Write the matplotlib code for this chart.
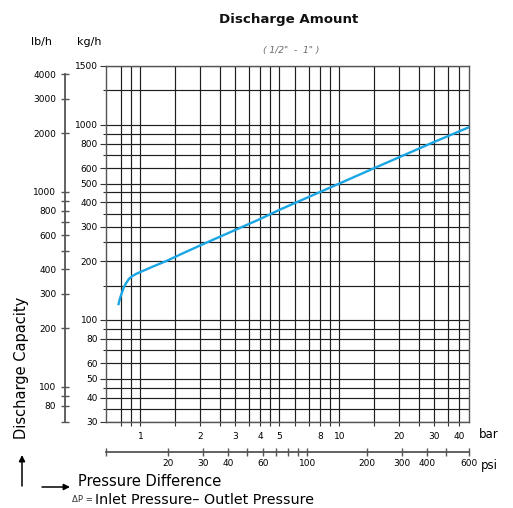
import matplotlib
matplotlib.use("Agg")
import matplotlib.pyplot as plt
from matplotlib.ticker import NullFormatter

# curva: diferenca de pressao [bar] x capacidade [kg/h]
dp_bar = [0.775, 0.79, 0.806, 0.826, 0.847, 0.875, 0.905, 0.95, 1.0, 1.16, 1.36, 1.58, 2.0,
          4.0, 5.04, 10.0, 15.1, 30.0, 45.4]
cap_kgh = [119, 129, 137, 147, 154, 162, 167, 172, 176, 188, 201, 216, 241,
           329, 368, 500, 602, 817, 977]

# eixos
kg_major = [30, 40, 50, 60, 80, 100, 200, 300, 400, 500, 600, 800, 1000]
kg_minor = [35, 45, 70, 90, 150, 250, 350, 450, 700, 900, 1500]
lb_major = [80, 100, 200, 300, 400, 600, 800, 1000, 2000, 3000, 4000]
lb_minor = [90, 500, 700, 900]
bar_major = [1, 2, 3, 4, 5, 8, 10, 20, 30, 40]
bar_minor = [0.8, 0.9, 1.5, 2.5, 3.5, 4.5, 6, 7, 9, 15, 25, 35]
psi_major = [20, 30, 40, 60, 100, 200, 300, 400]
psi_minor = [50, 70, 80, 90, 500]

KG2LB = 2.20462
BAR2PSI = 14.5038
W, H = 513, 508

def fx(px):
    return px / W

def fy(py):
    return 1 - py / H

fig = plt.figure(figsize=(W / 100, H / 100), dpi=100)
ax = fig.add_axes([fx(106), 86 / H, 363 / W, 356 / H])
ax.set_xscale("log")
ax.set_yscale("log")
ax.set_xlim(0.672, 44.8)
ax.set_ylim(30, 2000)

ax.plot(dp_bar, cap_kgh, color="#1aa6e4", lw=1.7, solid_capstyle="butt",
        solid_joinstyle="round", zorder=5)

# kg/h
ax.set_yticks(kg_major + [2000], labels=[str(v) for v in kg_major] + ["1500"])
ax.set_yticks(kg_minor, minor=True)
ax.yaxis.set_minor_formatter(NullFormatter())
# bar
ax.set_xticks(bar_major, labels=[str(v) for v in bar_major])
ax.set_xticks(bar_minor, minor=True)
ax.xaxis.set_minor_formatter(NullFormatter())

ax.grid(True, which="both", color="#1e1e1e", lw=0.85)
for s in ax.spines.values():
    s.set_color("#555555")
    s.set_linewidth(1.0)
ax.tick_params(axis="y", which="major", direction="out", length=4.3, width=0.8,
               pad=1.6, labelsize=6.5, color="#333333")
ax.tick_params(axis="y", which="minor", direction="out", length=2.5, width=0.8, color="#333333")
ax.tick_params(axis="x", which="both", direction="out", length=2.8, width=0.8,
               pad=4.5, labelsize=6.5, color="#333333")

# lb/h
lb = ax.secondary_yaxis(-41 / 363, functions=(lambda k: k * KG2LB, lambda l: l / KG2LB))
lb.set_yticks(lb_major, labels=[str(v) for v in lb_major])
lb.set_yticks(lb_minor + [30 * KG2LB], minor=True)
lb.yaxis.set_minor_formatter(NullFormatter())
lb.spines["left"].set_bounds(30 * KG2LB, 4000)
lb.spines["left"].set_color("#555555")
lb.spines["left"].set_linewidth(1.3)
lb.tick_params(which="both", direction="inout", length=5.5, width=1.0, pad=3.5,
               labelsize=6.5, color="#555555")

# psi
psi = ax.secondary_xaxis(-30 / 356, functions=(lambda b: b * BAR2PSI, lambda p: p / BAR2PSI))
x0, x1 = ax.get_xlim()
psi.set_xticks(psi_major + [x1 * BAR2PSI], labels=[str(v) for v in psi_major] + ["600"])
psi.set_xticks(psi_minor + [x0 * BAR2PSI], minor=True)
psi.xaxis.set_minor_formatter(NullFormatter())
psi.spines["bottom"].set_color("#555555")
psi.spines["bottom"].set_linewidth(1.3)
psi.tick_params(which="both", direction="inout", length=5.5, width=1.0, pad=2.5,
                labelsize=6.5, color="#555555")

# textos
fig.text(fx(289), fy(20), "Discharge Amount", ha="center", va="center",
         fontsize=9.6, fontweight="bold", color="#111111")
fig.text(fx(291), fy(50), "( 1/2\"  -  1\" )", ha="center", va="center",
         fontsize=6.6, style="italic", color="#666666")
fig.text(fx(41), fy(42), "lb/h", ha="center", va="center", fontsize=8)
fig.text(fx(89), fy(42), "kg/h", ha="center", va="center", fontsize=8)
fig.text(fx(489), fy(435), "bar", ha="center", va="center", fontsize=8.5)
fig.text(fx(489), fy(465), "psi", ha="center", va="center", fontsize=8.5)
fig.text(fx(22), fy(368), "Discharge Capacity", ha="center", va="center",
         rotation=90, fontsize=10.5)
fig.text(fx(78), fy(481), "Pressure Difference", ha="left", va="center", fontsize=10.5)
fig.text(fx(72), fy(500), "\u0394P =", ha="left", va="center", fontsize=6.2, color="#333333")
fig.text(fx(95), fy(500), "Inlet Pressure\u2013 Outlet Pressure", ha="left", va="center",
         fontsize=10.3)

arrow = dict(arrowstyle="-|>", color="black", lw=1.1, mutation_scale=9, shrinkA=0, shrinkB=0)
ax.annotate("", xy=(fx(22), fy(455)), xytext=(fx(22), fy(486)),
            xycoords="figure fraction", textcoords="figure fraction",
            arrowprops=arrow, annotation_clip=False)
ax.annotate("", xy=(fx(70), fy(487)), xytext=(fx(42), fy(487)),
            xycoords="figure fraction", textcoords="figure fraction",
            arrowprops=arrow, annotation_clip=False)

fig.savefig("out.png", dpi=100)
